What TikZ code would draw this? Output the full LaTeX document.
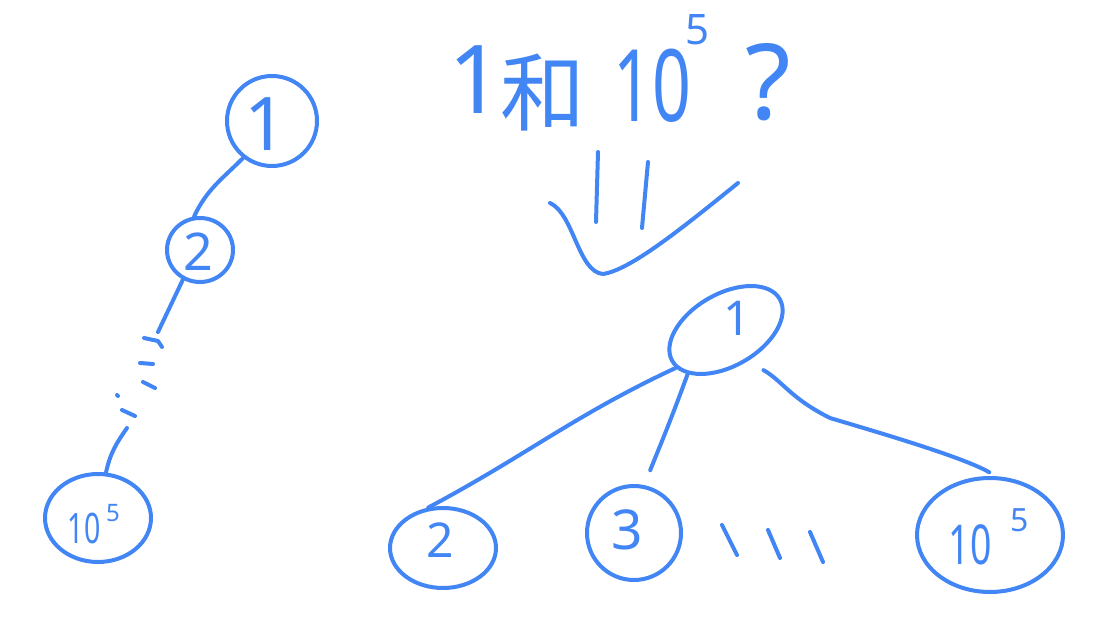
\documentclass[tikz,border=0pt]{standalone}
\usepackage{graphicx}
\usepackage{fontspec}
\setmainfont{Noto Sans}
\newfontfamily\cjk{Noto Sans CJK SC}
\usetikzlibrary{shapes.geometric}
\definecolor{ink}{RGB}{66,133,244}
\newcommand\myfs[1]{\fontsize{#1}{#1}\selectfont}
\newcommand\narrow[1]{\scalebox{0.68}[1]{#1}}
\tikzset{
  bubble/.style={ellipse, draw=ink, inner sep=0pt},
  lbl/.style={inner sep=0pt, text=ink},
  stroke/.style={draw=ink, line width=4pt, line cap=round, line join=round}
}
\begin{document}
\begin{tikzpicture}[x=1pt, y=-1pt, line width=4pt, line cap=round, line join=round, color=ink]
\path[fill=white] (0,0) rectangle (1096,628);
\useasboundingbox (0,0) rectangle (1096,628);

% ---------- left chain ----------
\node[bubble, minimum width=90pt, minimum height=90pt] (L1) at (272,121) {};
\node[lbl, font=\myfs{74}] (L1t) at (266,124) {1};
\node[bubble, minimum width=66pt, minimum height=64pt] (L2) at (200,250) {};
\node[lbl, font=\myfs{52}] (L2t) at (198,252) {2};
\node[bubble, minimum width=106pt, minimum height=88pt] (L3) at (98,518) {};
\node[lbl, font=\myfs{42}] (L3t) at (84,528) {\narrow{10}};
\node[lbl, font=\myfs{24}] (L3s) at (113,513) {5};

\draw[stroke] (L1.232) to[out=225, in=65] (L2.100);
\coordinate (c2) at (158,332);
\draw[stroke] (L2.240) -- (c2);
% dotted part
\draw[stroke] (144,338) -- (158,341) -- (162,347);
\draw[stroke] (140,363) -- (153,364);
\draw[stroke] (143,382) -- (155,388);
\draw[stroke] (117,395) -- (118,396);
\draw[stroke] (122,410) -- (135,416);
\coordinate (c5) at (127,428);
\draw[stroke] (c5) to[out=235, in=78] (L3.80);

% ---------- question ----------
\node[lbl, font=\myfs{95}] (T1) at (476,80) {1};
\node[lbl, font=\cjk\myfs{85}] (T2) at (543,93) {和};
\node[lbl, font=\myfs{100}] (T3) at (652,86) {\narrow{10}};
\node[lbl, font=\myfs{42}] (T4) at (698,30) {5};
\node[lbl, font=\myfs{105}] (T5) at (768,82) {?};

% ---------- double arrow ----------
\draw[stroke] (598,152) -- (596,222);
\draw[stroke] (648,162) -- (642,228);
\draw[stroke] (550,203) .. controls (574,214) and (578,272) .. (603,274)
  .. controls (630,270) and (680,230) .. (738,183);

% ---------- right tree ----------
\node[bubble, minimum width=124pt, minimum height=72pt, rotate=30] (R1) at (726,330) {};
\node[lbl, font=\myfs{48}] (R1t) at (737,318) {1};
\node[bubble, minimum width=106pt, minimum height=80pt] (R2) at (443,548) {};
\node[lbl, font=\myfs{48}] (R2t) at (440,540) {2};
\node[bubble, minimum width=94pt, minimum height=94pt] (R3) at (634,533) {};
\node[lbl, font=\myfs{55}] (R3t) at (627,530) {3};
\node[bubble, minimum width=146pt, minimum height=114pt] (R4) at (990,535) {};
\node[lbl, font=\myfs{55}] (R4t) at (970,545) {\narrow{10}};
\node[lbl, font=\myfs{32}] (R4s) at (1020,520) {5};

\draw[stroke] (R1.187) to[out=205, in=28] (R2.110);
\draw[stroke, shorten >=16pt] (R1.199) to[out=250, in=68] (R3.78);
\draw[stroke, shorten <=18pt, shorten >=8pt] (R1.275) .. controls +(35,20) and +(-40,-20) .. (830,418)
  .. controls +(40,12) and +(-35,-20) .. (R4.84);

% dots between 3 and 10^5
\draw[stroke] (722,525) -- (737,555);
\draw[stroke] (768,530) -- (780,558);
\draw[stroke] (810,532) -- (823,562);
\end{tikzpicture}
\end{document}
